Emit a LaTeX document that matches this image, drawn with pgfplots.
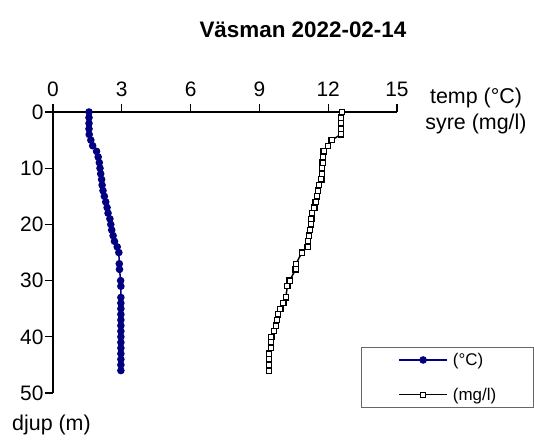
\documentclass[border=0pt]{standalone}
\usepackage{pgfplots}
\usepackage{pgfplotstable}
\pgfplotsset{compat=1.18}
\usepackage{fontspec}
\setmainfont{Liberation Sans}
\definecolor{navyc}{RGB}{0,0,128}
\pgfplotstableread{
d t
0 1.57
1 1.57
2 1.57
3 1.57
4 1.58
5 1.65
6 1.73
7 1.90
8 1.97
9 2.02
10 2.05
11 2.08
12 2.12
13 2.14
14 2.18
15 2.24
16 2.30
17 2.36
18 2.40
19 2.48
20 2.52
21 2.56
22 2.62
23 2.68
24 2.80
25 2.87
27 2.89
28 2.90
30 2.95
31 2.96
33 2.96
34 2.96
35 2.96
36 2.96
37 2.96
38 2.96
39 2.96
40 2.96
41 2.96
42 2.96
43 2.96
44 2.96
45 2.96
46 2.96
}\temptable
\pgfplotstableread{
d o
0 12.60
1 12.57
2 12.55
3 12.55
4 12.55
5 12.15
6 12.00
7 11.80
8 11.78
9 11.76
10 11.74
11 11.72
12 11.70
13 11.60
14 11.55
15 11.52
16 11.45
17 11.40
18 11.30
19 11.27
20 11.25
21 11.20
22 11.16
23 11.12
24 11.10
25 10.85
27 10.60
28 10.58
30 10.32
31 10.22
33 10.15
34 10.05
35 9.92
36 9.82
37 9.76
38 9.72
39 9.64
40 9.52
41 9.50
42 9.50
43 9.42
44 9.42
45 9.42
46 9.42
}\oxytable
\begin{document}
\begin{tikzpicture}
\begin{axis}[
  scale only axis, width=344bp, height=281bp,
  xmin=0, xmax=15, ymin=0, ymax=50, y dir=reverse,
  axis x line*=top, axis y line*=left,
  xtick={0,3,...,15}, ytick={0,10,...,50},
  tick align=outside, major tick length=8bp,
  tick style={black, line width=1.3bp},
  axis line style={black, line width=1.3bp},
  /pgf/number format/assume math mode=true,
  tick label style={font=\fontsize{21}{25}\selectfont},
  xticklabel style={yshift=4bp},
  yticklabel style={xshift=2bp},
  clip=false,
  legend style={at={(0.8953,-0.0534)}, anchor=south west,
    draw=black!60, line width=0.8bp, fill=white,
    inner xsep=37bp, inner ysep=6bp,
    row sep=21bp, column sep=5bp,
    font=\fontsize{17}{20}\selectfont,
    nodes={inner sep=0pt}},
  legend cell align=left,
  legend image code/.code={
    \draw[mark repeat=2,mark phase=2,#1] plot coordinates {(0bp,0bp) (24bp,0bp) (48bp,0bp)};},
]
\addplot[navyc, line width=1.5bp, mark=*, mark size=3bp, mark options={fill=navyc, draw=navyc}] table[x=t, y=d] {\temptable};
\addlegendentry{(°C)}
\addplot[black, line width=1.5bp, mark=square*, mark size=2.6bp, mark options={fill=white, draw=black, line width=1.2bp}] table[x=o, y=d] {\oxytable};
\addlegendentry{(mg/l)}
\node[font=\fontsize{22.5}{26}\selectfont\bfseries] at (axis cs:10.90,-14.59) {Väsman 2022-02-14};
\node[font=\fontsize{21.5}{25}\selectfont] at (axis cs:18.445,-2.49) {temp (°C)};
\node[font=\fontsize{21.5}{25}\selectfont] at (axis cs:18.445,2.135) {syre (mg/l)};
\node[font=\fontsize{21.5}{25}\selectfont, anchor=west, inner sep=0pt] at (axis cs:-1.788,55.6) {djup (m)};
\path (axis cs:-2.311,-19.93) rectangle (axis cs:20.974,59.07);
\end{axis}
\end{tikzpicture}
\end{document}
